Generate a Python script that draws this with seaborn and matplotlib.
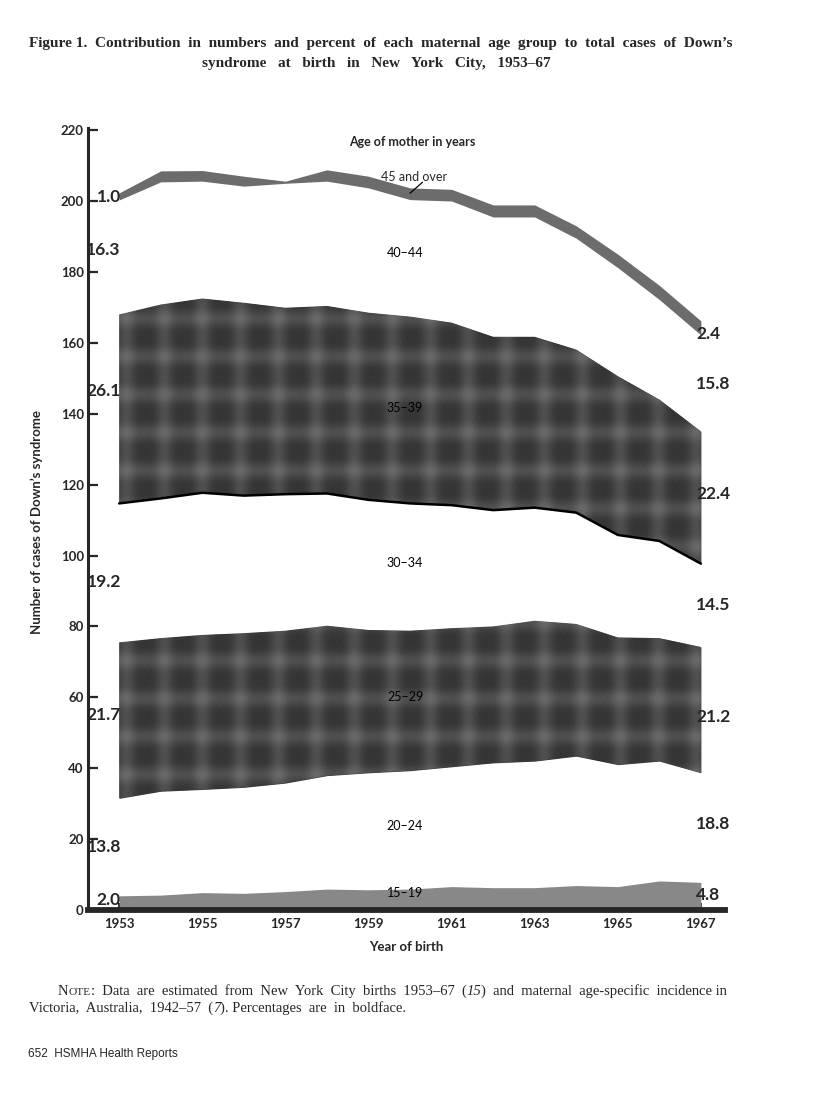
import numpy as np
import matplotlib
matplotlib.use("Agg")
import matplotlib.pyplot as plt
import seaborn as sns
import pandas as pd

YEARS = list(range(1953, 1968))

# estimated cases of Down's syndrome by maternal age group
AGE_15_19 = [4.0, 4.2, 4.9, 4.7, 5.2, 5.9, 5.7, 5.9, 6.6, 6.3, 6.3, 6.9, 6.6, 8.2, 7.8]
AGE_20_24 = [27.5, 29.3, 29.1, 29.9, 30.6, 32.0, 33.0, 33.4, 33.8, 35.2, 35.7, 36.5, 34.4, 33.8, 30.9]
AGE_25_29 = [44.0, 43.2, 43.6, 43.5, 43.0, 42.3, 40.3, 39.5, 39.1, 38.5, 39.6, 37.3, 35.9, 34.7, 35.5]
AGE_30_34 = [39.2, 39.4, 40.1, 38.8, 38.5, 37.3, 36.7, 35.9, 34.7, 32.8, 31.9, 31.4, 28.9, 27.4, 23.5]
AGE_35_39 = [53.3, 54.7, 54.8, 54.4, 52.6, 52.9, 52.8, 52.7, 51.5, 48.9, 48.2, 46.0, 44.8, 39.9, 37.3]
AGE_40_44 = [32.3, 34.6, 33.1, 32.9, 35.1, 35.2, 35.2, 33.0, 34.3, 33.8, 33.8, 31.4, 30.6, 28.2, 27.2]
AGE_45_UP = [2.0, 3.1, 3.0, 2.8, 0.6, 3.2, 3.3, 3.3, 3.3, 3.4, 3.4, 3.5, 3.8, 4.0, 4.0]

GROUPS = ["15\u201319", "20\u201324", "25\u201329", "30\u201334", "35\u201339", "40\u201344", "45 and over"]
PCT_1953 = ["2.0", "13.8", "21.7", "19.2", "26.1", "16.3", "1.0"]
PCT_1967 = ["4.8", "18.8", "21.2", "14.5", "22.4", "15.8", "2.4"]

df = pd.DataFrame(
    {"year": YEARS, GROUPS[0]: AGE_15_19, GROUPS[1]: AGE_20_24, GROUPS[2]: AGE_25_29,
     GROUPS[3]: AGE_30_34, GROUPS[4]: AGE_35_39, GROUPS[5]: AGE_40_44, GROUPS[6]: AGE_45_UP}
)
tops = df[GROUPS].cumsum(axis=1)
bottoms = tops.shift(1, axis=1).fillna(0.0)

sns.set_style("ticks")
plt.rcParams["font.family"] = ["Lato", "DejaVu Sans"]

W, H = 816, 1101
fig = plt.figure(figsize=(W / 100, H / 100), dpi=100)
ax_px = (88, 128, 725, 910)  # left, top, right, bottom in pixels
ax = fig.add_axes([ax_px[0] / W, 1 - ax_px[3] / H, (ax_px[2] - ax_px[0]) / W, (ax_px[3] - ax_px[1]) / H])

XLIM = (1952.25, 1967.58)
YLIM = (0, 220.6)

# plaid texture for the checked bands: dark squares, lighter crossing stripes
pw, ph = ax_px[2] - ax_px[0], ax_px[3] - ax_px[1]
yy, xx = np.mgrid[0:ph, 0:pw]
lx = ((1 + np.cos(2 * np.pi * xx / 38.0)) / 2) ** 2
ly = ((1 + np.cos(2 * np.pi * yy / 38.0)) / 2) ** 2
grain = 0.03 * np.sin(xx * 2.1 + yy * 0.7) * np.sin(yy * 2.6 - xx * 1.1)
plaid = 0.21 + 0.10 * lx + 0.10 * ly + grain

x = df["year"]
fills = {GROUPS[0]: "#888888", GROUPS[6]: "#6c6c6c"}
for g in GROUPS:
    if g in (GROUPS[2], GROUPS[4]):
        poly = ax.fill_between(x, bottoms[g], tops[g], color="#3a3a3a", lw=0, zorder=2)
        im = ax.imshow(plaid, cmap="gray", vmin=0, vmax=1, origin="upper",
                       extent=(*XLIM, *YLIM), aspect="auto", interpolation="bilinear", zorder=2.5)
        im.set_clip_path(poly.get_paths()[0], transform=ax.transData)
    elif g in fills:
        ax.fill_between(x, bottoms[g], tops[g], color=fills[g], lw=0, zorder=2)

# heavy line under the 35-39 band
sns.lineplot(x=x, y=bottoms[GROUPS[4]], color="black", lw=1.8, ax=ax, zorder=3)

ax.set_xlim(*XLIM)
ax.set_ylim(*YLIM)

# percentage labels at the two ends
pct_font = dict(fontweight="bold", fontsize=12.5, zorder=6)
left_shift = [0.8, 0, 1.4, -2.5, 5.0, 2.0, -0.3]
right_shift = [0.3, 1.0, -2.0, 0.2, 1.0, -0.2, -1.6]
for i, g in enumerate(GROUPS):
    y0 = (bottoms[g].iloc[0] + tops[g].iloc[0]) / 2 + left_shift[i]
    y1 = (bottoms[g].iloc[-1] + tops[g].iloc[-1]) / 2 + right_shift[i]
    ax.text(1953.04, y0, PCT_1953[i], ha="right", va="center", **pct_font)
    ax.text(1966.88, y1, PCT_1967[i], ha="left", va="center", **pct_font)

# age group names inside the bands
mid_i = YEARS.index(1960)
name_shift = [1.8, 1.1, 1.0, 1.0, 0.7, 1.5]
for i, g in enumerate(GROUPS[:-1]):
    ym = (bottoms[g].iloc[mid_i] + tops[g].iloc[mid_i]) / 2 + name_shift[i]
    ax.text(1959.88, ym, g, ha="center", va="center", fontsize=9, zorder=5,
            color="black")
ax.text(1960.1, 206.9, GROUPS[6], ha="center", va="center", fontsize=9, zorder=5)
ax.plot([1960.3, 1960.0], [205.3, 202.2], color="black", lw=0.9, zorder=5)
ax.text(1960.05, 216.6, "Age of mother in years", ha="center", va="center",
        fontsize=9, fontweight="bold", zorder=5)

# axes styling
sns.despine(ax=ax)
ax.spines["left"].set_linewidth(2.2)
ax.spines["bottom"].set_linewidth(4.2)
ax.set_yticks(range(0, 221, 20))
ax.set_xticks(range(1953, 1968, 2))
ax.set_xticks(range(1954, 1967, 2), minor=True)
ax.tick_params(axis="y", direction="in", length=7, width=1.6, pad=3, labelsize=9.5)
ax.tick_params(axis="x", which="both", direction="in", length=5, width=1.4, pad=6, labelsize=9.5)
for lab in ax.get_xticklabels() + ax.get_yticklabels():
    lab.set_fontweight("bold")
ax.set_xlabel("Year of birth", fontsize=9.5, fontweight="bold", labelpad=8)
ax.set_ylabel("")
fig.text(37 / W, 1 - 522 / H, "Number of cases of Down\u2019s syndrome", rotation=90,
         ha="center", va="center", fontsize=9.5, fontweight="bold")

# title
serif = "Liberation Serif"
fig.text(381 / W, 1 - 44 / H,
         "Figure 1.  Contribution  in  numbers  and  percent  of  each  maternal  age  group  to  total  cases  of  Down\u2019s",
         ha="center", va="center", family=serif, fontweight="bold", fontsize=11)
fig.text(376 / W, 1 - 64 / H, "syndrome   at   birth   in   New   York   City,   1953\u201367",
         ha="center", va="center", family=serif, fontweight="bold", fontsize=11)


def put_runs(x0, y0, runs):
    r = fig.canvas.get_renderer()
    xpos = x0
    for text, size, style in runs:
        t = fig.text(xpos, y0, text, family=serif, fontsize=size, style=style, va="baseline")
        xpos += t.get_window_extent(renderer=r).width / fig.bbox.width


put_runs(58 / W, 1 - 995 / H, [
    ("N", 10.5, "normal"), ("OTE", 8.2, "normal"),
    (":  Data  are  estimated  from  New  York  City  births  1953\u201367  (", 10.5, "normal"),
    ("15", 10.5, "italic"),
    (")  and  maternal  age-specific  incidence in", 10.5, "normal"),
])
put_runs(29 / W, 1 - 1012 / H, [
    ("Victoria,  Australia,  1942\u201357  (", 10.5, "normal"), ("7", 10.5, "italic"),
    ("). Percentages  are  in  boldface.", 10.5, "normal"),
])
fig.text(28 / W, 1 - 1057 / H, "652  HSMHA Health Reports", family="Liberation Sans",
         fontsize=8.5, va="baseline")

fig.savefig("out.png", dpi=100, facecolor="white")
